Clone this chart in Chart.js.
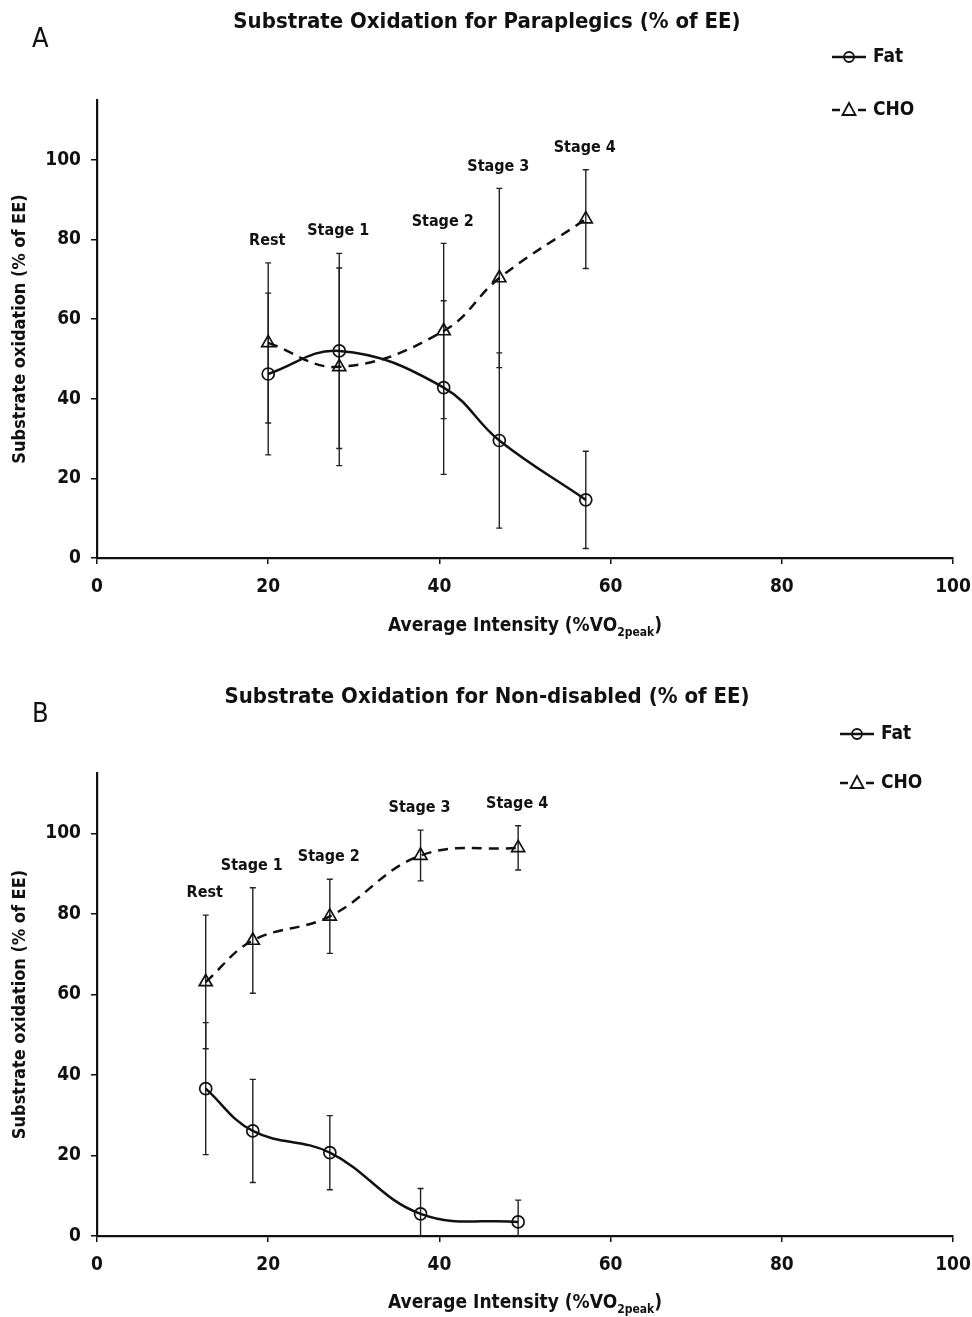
<!DOCTYPE html>
<html>
<head>
<meta charset="utf-8">
<script src="https://cdn.jsdelivr.net/npm/chart.js@4.4.1/dist/chart.umd.min.js"></script>
<style>
  body { margin: 0; background: #fff; }
  .panel { position: absolute; left: 0; }
</style>
</head>
<body>
<canvas id="panelA" class="panel" width="972" height="658" style="top:0"></canvas>
<canvas id="panelB" class="panel" width="972" height="659" style="top:658px"></canvas>
<script>
// data
const stages = ['Rest', 'Stage 1', 'Stage 2', 'Stage 3', 'Stage 4'];
const xTicks = [0, 20, 40, 60, 80, 100];
const yTicks = [0, 20, 40, 60, 80, 100];

// panel A - paraplegics
const intensityA = [20, 28.3, 40.5, 47, 57.1];
const fatA = [46.2, 52, 42.8, 29.5, 14.6];
const fatErrA = [20.3, 24.5, 21.8, 22, 12.2];
const choA = [54, 48, 57, 70.3, 85.1];
const choErrA = [20.1, 24.8, 22, 22.5, 12.4];

// panel B - non-disabled
const intensityB = [12.7, 18.2, 27.2, 37.8, 49.2];
const fatB = [36.6, 26.1, 20.7, 5.5, 3.5];
const fatErrB = [16.4, 12.8, 9.2, 6.3, 5.4];
const choB = [63.1, 73.4, 79.4, 94.5, 96.4];
const choErrB = [16.6, 13.1, 9.2, 6.3, 5.5];

const FONT = "'Liberation Sans Narrow', 'DejaVu Sans Condensed', sans-serif";

function font(size, weight) {
  return (weight || 'bold') + ' ' + size + 'px ' + FONT;
}

// draws a legend marker
function drawMarker(ctx, style, x, y) {
  ctx.beginPath();
  if (style === 'circle') {
    ctx.arc(x, y, 5, 0, Math.PI * 2);
  } else {
    ctx.moveTo(x, y - 7);
    ctx.lineTo(x + 6.5, y + 5);
    ctx.lineTo(x - 6.5, y + 5);
    ctx.closePath();
  }
  ctx.stroke();
}

const extrasPlugin = {
  id: 'extras',
  beforeDatasetsDraw(chart, args, opts) {
    // error bars
    const ctx = chart.ctx;
    const xs = chart.scales.x, ys = chart.scales.y;
    const area = chart.chartArea;
    ctx.save();
    ctx.beginPath();
    ctx.rect(area.left, area.top, area.right - area.left, area.bottom - area.top + 1);
    ctx.clip();
    ctx.strokeStyle = '#222';
    ctx.lineWidth = 1.4;
    opts.series.forEach(s => {
      s.x.forEach((xv, i) => {
        const px = xs.getPixelForValue(xv);
        const top = ys.getPixelForValue(s.y[i] + s.err[i]);
        const bot = ys.getPixelForValue(s.y[i] - s.err[i]);
        ctx.beginPath();
        ctx.moveTo(px, top); ctx.lineTo(px, bot);
        ctx.moveTo(px - 3, top); ctx.lineTo(px + 3, top);
        ctx.moveTo(px - 3, bot); ctx.lineTo(px + 3, bot);
        ctx.stroke();
      });
    });
    ctx.restore();
  },
  afterDraw(chart, args, opts) {
    const ctx = chart.ctx;
    const xs = chart.scales.x, ys = chart.scales.y;
    const area = chart.chartArea;
    ctx.save();
    ctx.fillStyle = '#111';
    ctx.textBaseline = 'middle';

    // panel letter
    ctx.font = font(27, 'normal');
    ctx.textAlign = 'left';
    ctx.fillText(opts.letter, 32, opts.titleY + 18);

    // title
    ctx.font = font(22);
    ctx.textAlign = 'center';
    ctx.fillText(opts.title, 487, opts.titleY);

    // stage labels above the highest error bar
    ctx.font = font(16);
    opts.stages.forEach((lab, i) => {
      let top = 0;
      opts.series.forEach(s => { top = Math.max(top, s.y[i] + s.err[i]); });
      ctx.fillText(lab, xs.getPixelForValue(opts.series[0].x[i]) - 1, ys.getPixelForValue(top) - 22);
    });

    // x axis title with subscript
    const main = 'Average Intensity (%VO';
    const sub = '2peak';
    ctx.font = font(19);
    const w1 = ctx.measureText(main).width;
    const w3 = ctx.measureText(')').width;
    ctx.font = font(12);
    const w2 = ctx.measureText(sub).width;
    let x0 = (area.left + area.right) / 2 - (w1 + w2 + w3) / 2;
    const ty = opts.xTitleY;
    ctx.textAlign = 'left';
    ctx.font = font(19);
    ctx.fillText(main, x0, ty);
    ctx.font = font(12);
    ctx.fillText(sub, x0 + w1, ty + 7);
    ctx.font = font(19);
    ctx.fillText(')', x0 + w1 + w2, ty);

    // legend
    ctx.font = font(19);
    ctx.lineWidth = 2.4;
    ctx.strokeStyle = '#111';
    const lx = opts.legendX;
    opts.legendItems.forEach(item => {
      ctx.beginPath();
      if (item.dash) {
        ctx.moveTo(lx, item.y); ctx.lineTo(lx + 8, item.y);
        ctx.moveTo(lx + 26, item.y); ctx.lineTo(lx + 34, item.y);
      } else {
        ctx.moveTo(lx, item.y); ctx.lineTo(lx + 34, item.y);
      }
      ctx.stroke();
      ctx.lineWidth = 1.8;
      drawMarker(ctx, item.style, lx + 17, item.y);
      ctx.lineWidth = 2.4;
      ctx.fillText(item.label, lx + 41, item.y);
    });
    ctx.restore();
  }
};

function makePanel(id, cfg) {
  const canvas = document.getElementById(id);
  const H = canvas.height;
  const pts = (xs, ys) => xs.map((x, i) => ({ x: x, y: ys[i] }));
  return new Chart(canvas.getContext('2d'), {
    type: 'scatter',
    data: {
      datasets: [
        {
          label: 'Fat',
          data: pts(cfg.x, cfg.fat),
          showLine: true,
          borderColor: '#111',
          borderWidth: 2.5,
          tension: 0.4,
          pointStyle: 'circle',
          pointRadius: 6,
          pointBorderWidth: 1.7,
          pointBorderColor: '#111',
          pointBackgroundColor: 'rgba(0,0,0,0)'
        },
        {
          label: 'CHO',
          data: pts(cfg.x, cfg.cho),
          showLine: true,
          borderColor: '#111',
          borderWidth: 2.5,
          borderDash: [10, 7],
          tension: 0.4,
          pointStyle: 'triangle',
          pointRadius: 7.5,
          pointBorderWidth: 1.7,
          pointBorderColor: '#111',
          pointBackgroundColor: 'rgba(0,0,0,0)'
        }
      ]
    },
    options: {
      responsive: false,
      animation: false,
      events: [],
      layout: { padding: { top: cfg.plotTop, right: 19, left: 0, bottom: 0 } },
      plugins: {
        legend: { display: false },
        tooltip: { enabled: false },
        extras: {
          letter: cfg.letter,
          title: cfg.title,
          titleY: cfg.titleY,
          xTitleY: cfg.xTitleY,
          stages: stages,
          legendX: cfg.legendX,
          legendItems: [
            { label: 'Fat', style: 'circle', dash: false, y: cfg.legendY[0] },
            { label: 'CHO', style: 'triangle', dash: true, y: cfg.legendY[1] }
          ],
          series: [
            { x: cfg.x, y: cfg.fat, err: cfg.fatErr },
            { x: cfg.x, y: cfg.cho, err: cfg.choErr }
          ]
        }
      },
      scales: {
        x: {
          type: 'linear',
          min: 0,
          max: 100,
          afterBuildTicks: s => { s.ticks = xTicks.map(v => ({ value: v })); },
          afterFit: s => {
            s.height = H - cfg.plotBottom;
            s.paddingLeft = 0;
            s.paddingRight = 0;
          },
          ticks: { color: '#111', font: { family: FONT, size: 19, weight: 'bold' }, padding: 12, maxRotation: 0 },
          grid: { drawOnChartArea: false, color: '#111', lineWidth: 1.5, tickLength: 6 },
          border: { color: '#111', width: 2.2 }
        },
        y: {
          min: 0,
          max: 115,
          afterBuildTicks: s => { s.ticks = yTicks.map(v => ({ value: v })); },
          afterFit: s => {
            s.width = 97;
            s.paddingTop = 0;
            s.paddingBottom = 0;
          },
          ticks: { color: '#111', font: { family: FONT, size: 19, weight: 'bold' }, padding: 10 },
          grid: { drawOnChartArea: false, color: '#111', lineWidth: 1.5, tickLength: 6 },
          border: { color: '#111', width: 2.2 },
          title: {
            display: true,
            text: 'Substrate oxidation (% of EE)',
            color: '#111',
            font: { family: FONT, size: 18, weight: 'bold' },
            padding: { top: 10, bottom: 0 }
          }
        }
      }
    },
    plugins: [extrasPlugin]
  });
}

makePanel('panelA', {
  letter: 'A',
  title: 'Substrate Oxidation for Paraplegics (% of EE)',
  titleY: 22,
  xTitleY: 626,
  plotTop: 100,
  plotBottom: 558,
  legendX: 832,
  legendY: [57, 110],
  x: intensityA, fat: fatA, fatErr: fatErrA, cho: choA, choErr: choErrA
});

makePanel('panelB', {
  letter: 'B',
  title: 'Substrate Oxidation for Non-disabled (% of EE)',
  titleY: 39,
  xTitleY: 645,
  plotTop: 115,
  plotBottom: 578,
  legendX: 840,
  legendY: [76, 125],
  x: intensityB, fat: fatB, fatErr: fatErrB, cho: choB, choErr: choErrB
});
</script>
</body>
</html>
